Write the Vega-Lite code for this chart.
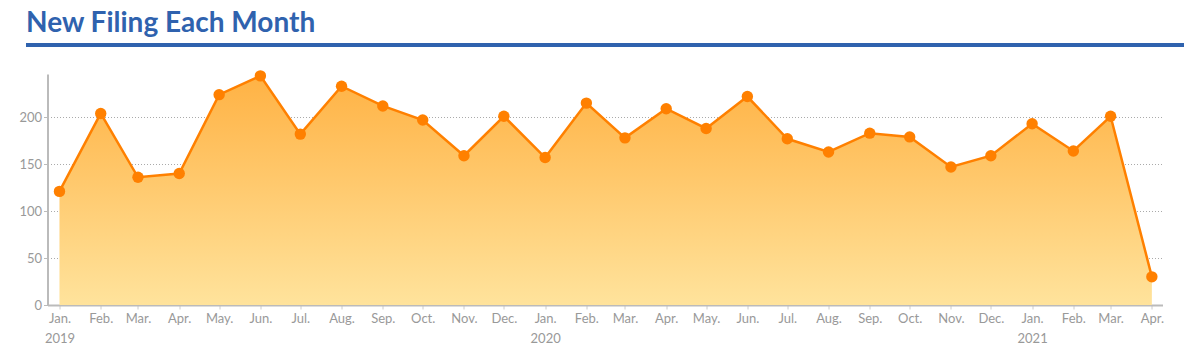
{
  "$schema": "https://vega.github.io/schema/vega-lite/v6.json",
  "autosize": {"type": "pad"},
  "padding": {"left": 18, "top": 10, "right": 5, "bottom": 5},
  "config": {"view": {"stroke": null}, "font": "Lato"},
  "bounds": "flush",
  "center": true,
  "spacing": 27,
  "datasets": {
    "filings": [
      {"date": "2019-01-01", "count": 121},
      {"date": "2019-02-01", "count": 204},
      {"date": "2019-03-01", "count": 136},
      {"date": "2019-04-01", "count": 140},
      {"date": "2019-05-01", "count": 224},
      {"date": "2019-06-01", "count": 244},
      {"date": "2019-07-01", "count": 182},
      {"date": "2019-08-01", "count": 233},
      {"date": "2019-09-01", "count": 212},
      {"date": "2019-10-01", "count": 197},
      {"date": "2019-11-01", "count": 159},
      {"date": "2019-12-01", "count": 201},
      {"date": "2020-01-01", "count": 157},
      {"date": "2020-02-01", "count": 215},
      {"date": "2020-03-01", "count": 178},
      {"date": "2020-04-01", "count": 209},
      {"date": "2020-05-01", "count": 188},
      {"date": "2020-06-01", "count": 222},
      {"date": "2020-07-01", "count": 177},
      {"date": "2020-08-01", "count": 163},
      {"date": "2020-09-01", "count": 183},
      {"date": "2020-10-01", "count": 179},
      {"date": "2020-11-01", "count": 147},
      {"date": "2020-12-01", "count": 159},
      {"date": "2021-01-01", "count": 193},
      {"date": "2021-02-01", "count": 164},
      {"date": "2021-03-01", "count": 201},
      {"date": "2021-04-01", "count": 30}
    ]
  },
  "vconcat": [
    {
      "width": 1158,
      "height": 4,
      "title": {
        "text": "New Filing Each Month",
        "anchor": "start",
        "frame": "group",
        "fontSize": 28,
        "fontWeight": "bold",
        "color": "#2F62AE",
        "font": "Lato",
        "baseline": "alphabetic",
        "offset": -17
      },
      "data": {"values": [{}]},
      "mark": {"type": "rule", "color": "#2F62AE", "strokeWidth": 4},
      "encoding": {
        "y": {"datum": 0, "type": "quantitative", "scale": {"domain": [-1, 1]}, "axis": null}
      }
    },
    {
      "width": 1115,
      "height": 231,
      "data": {"name": "filings"},
      "encoding": {
        "x": {
          "field": "date",
          "type": "temporal",
          "scale": {
            "type": "utc",
            "domain": [
              {"year": 2018, "month": 12, "date": 23, "utc": true},
              {"year": 2021, "month": 4, "date": 9, "utc": true}
            ]
          },
          "axis": {
            "title": null,
            "tickCount": {"interval": "month", "step": 1},
            "grid": false,
            "domainColor": "#bbbbbb",
            "domainWidth": 2,
            "tickColor": "#cccccc",
            "tickSize": 4,
            "labelColor": "#999999",
            "labelFontSize": 13,
            "labelPadding": 3,
            "labelLineHeight": 20,
            "labelFlush": false,
            "labelOverlap": false,
            "labelExpr": "utcFormat(datum.value, '%m') == '01' ? [utcFormat(datum.value, '%b') + '.', utcFormat(datum.value, '%Y')] : utcFormat(datum.value, '%b') + '.'"
          }
        },
        "y": {
          "field": "count",
          "type": "quantitative",
          "scale": {"domain": [0, 246], "nice": false},
          "axis": {
            "title": null,
            "values": [0, 50, 100, 150, 200],
            "grid": true,
            "gridDash": [1, 2],
            "gridColor": "#aaaaaa",
            "domainColor": "#bbbbbb",
            "domainWidth": 2,
            "tickColor": "#bbbbbb",
            "tickSize": 4,
            "labelColor": "#999999",
            "labelFontSize": 13,
            "labelPadding": 2
          }
        }
      },
      "layer": [
        {
          "mark": {
            "type": "area",
            "color": {
              "gradient": "linear",
              "x1": 0, "y1": 0, "x2": 0, "y2": 1,
              "stops": [
                {"offset": 0, "color": "#FFB244"},
                {"offset": 1, "color": "#FFE39C"}
              ]
            }
          }
        },
        {
          "mark": {"type": "line", "color": "#FF8000", "strokeWidth": 2.5}
        },
        {
          "mark": {"type": "circle", "color": "#FF8000", "size": 130, "opacity": 1}
        }
      ]
    }
  ]
}
